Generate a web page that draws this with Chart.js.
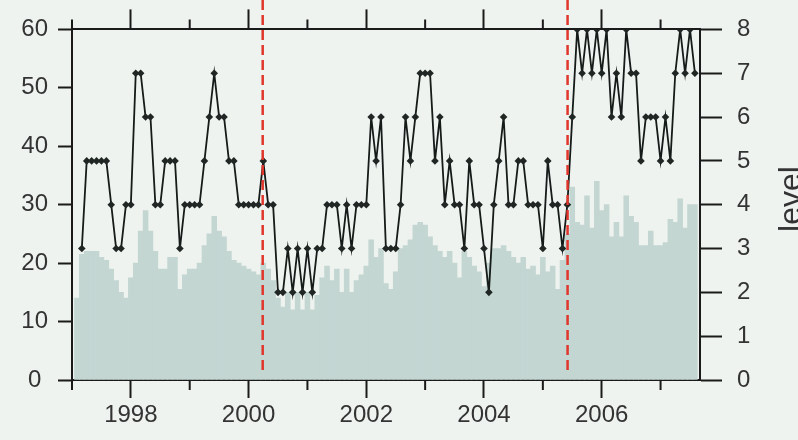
<!DOCTYPE html>
<html>
<head>
<meta charset="utf-8">
<script src="https://cdn.jsdelivr.net/npm/chart.js@4.4.1/dist/chart.umd.min.js"></script>
<style>
  html, body { margin: 0; padding: 0; background: #eff3ef; }
  #wrap { width: 798px; height: 440px; }
</style>
</head>
<body>
<div id="wrap"><canvas id="c" width="798" height="440"></canvas></div>
<script>
// ---- data (monthly, starting Feb 1997) ----
const startYear = 1997;
const firstMonthOffset = 1; // first value = month index 1 after Jan 1997

// bar series (left axis)
const barValues = [
  14, 21.5, 22, 22, 22, 21, 20.5, 19, 17, 15,
  14, 17.5, 20, 25.5, 29, 25.5, 22, 19, 19, 21,
  21, 15.5, 18, 19, 19, 20, 23, 25, 28, 25.5,
  24.5, 22, 20.5, 20, 19.5, 19, 18.5, 18, 20, 19,
  17, 14, 12.5, 15, 12, 15, 12, 15, 12, 14.5,
  17.5, 19.5, 17, 19, 15, 19, 15, 17, 18, 19.5,
  24, 21, 22.5, 16.5, 15.5, 18.5, 22.5, 23, 24, 26.5,
  27, 26.5, 24.5, 23, 22, 21, 22, 20, 17.5, 22,
  21, 19.5, 18.5, 16, 20, 22.5, 22.5, 23, 22, 21,
  20, 21, 19, 19.5, 18, 21, 18.5, 19.5, 15.5, 20.5,
  25, 33, 27, 26.5, 31.5, 26, 34, 29, 30, 24.5,
  27, 24.5, 31.5, 28, 27, 23, 23, 25.5, 23, 23,
  23.5, 27.5, 27, 31, 26, 30, 30
];

// level series (right axis)
const levelValues = [
  null, 3, 5, 5, 5, 5, 5, 4, 3, 3,
  4, 4, 7, 7, 6, 6, 4, 4, 5, 5,
  5, 3, 4, 4, 4, 4, 5, 6, 7, 6,
  6, 5, 5, 4, 4, 4, 4, 4, 5, 4,
  4, 2, 2, 3, 2, 3, 2, 3, 2, 3,
  3, 4, 4, 4, 3, 4, 3, 4, 4, 4,
  6, 5, 6, 3, 3, 3, 4, 6, 5, 6,
  7, 7, 7, 5, 6, 4, 5, 4, 4, 3,
  5, 4, 4, 3, 2, 4, 5, 6, 4, 4,
  5, 5, 4, 4, 4, 3, 5, 4, 4, 3,
  4, 6, 8, 7, 8, 7, 8, 7, 8, 6,
  7, 6, 8, 7, 7, 5, 6, 6, 6, 5,
  6, 5, 7, 8, 7, 8, 7
];

const yearTicks = [1997, 1998, 1999, 2000, 2001, 2002, 2003, 2004, 2005, 2006, 2007];
const leftTicks = [0, 10, 20, 30, 40, 50, 60];
const rightTicks = [0, 1, 2, 3, 4, 5, 6, 7, 8];
const breakYears = [2000.24, 2005.42];
const rightAxisTitle = 'level';
const xMin = 1997, xMax = 2007.67;

// ---- build ----
const months = barValues.map((_, i) => startYear + (firstMonthOffset + i) / 12);
const barData = months.map((t, i) => ({ x: t, y: barValues[i] }));
const levelData = months.map((t, i) => ({ x: t, y: levelValues[i] }));

const INK = '#1a1a1a';
const TXT = '#333333';
const FONT = { family: '"Liberation Sans", Arial, sans-serif', size: 24 };

const decor = {
  id: 'decor',
  beforeDraw(chart) {
    const c = chart.ctx;
    c.save();
    c.fillStyle = '#eff3ef';
    c.fillRect(0, 0, chart.width, chart.height);
    c.restore();
  },
  afterDatasetsDraw(chart) {
    const c = chart.ctx, xs = chart.scales.x, a = chart.chartArea;
    c.save();
    c.strokeStyle = '#e0362c';
    c.lineWidth = 2.5;
    c.setLineDash([10, 5]);
    breakYears.forEach(yr => {
      const px = xs.getPixelForValue(yr);
      c.beginPath();
      c.moveTo(px, 0);
      c.lineTo(px, a.bottom - 6);
      c.stroke();
    });
    c.restore();
  },
  afterDraw(chart) {
    const c = chart.ctx, xs = chart.scales.x, a = chart.chartArea;
    c.save();
    c.strokeStyle = INK;
    c.lineWidth = 2;
    yearTicks.filter(y => y % 2 !== 0).forEach(y => {
      const px = xs.getPixelForValue(y);
      c.beginPath();
      c.moveTo(px, a.bottom); c.lineTo(px, a.bottom + 10);
      c.moveTo(px, a.top); c.lineTo(px, a.top - 10);
      c.stroke();
    });
    c.fillStyle = TXT;
    c.font = '32px "Liberation Sans", Arial, sans-serif';
    c.translate(801, 199);
    c.rotate(-Math.PI / 2);
    c.textAlign = 'center';
    c.textBaseline = 'alphabetic';
    c.fillText(rightAxisTitle, 0, 0);
    c.restore();
  }
};

const majorTickColor = ctx => (ctx.tick && ctx.tick.value % 2 === 0) ? INK : 'rgba(0,0,0,0)';

new Chart(document.getElementById('c'), {
  type: 'bar',
  data: {
    datasets: [
      {
        type: 'line',
        label: 'level',
        data: levelData,
        xAxisID: 'x',
        yAxisID: 'y2',
        borderColor: '#151b18',
        borderWidth: 1.8,
        pointStyle: 'rectRot',
        pointRadius: 3.8,
        pointBackgroundColor: '#1f2623',
        pointBorderColor: '#1f2623',
        pointBorderWidth: 0,
        tension: 0,
        spanGaps: false,
        clip: 0,
        order: 0
      },
      {
        type: 'bar',
        label: 'count',
        data: barData,
        xAxisID: 'x',
        yAxisID: 'y',
        backgroundColor: '#c3d6d2',
        borderWidth: 0,
        barPercentage: 1,
        categoryPercentage: 1,
        order: 1
      }
    ]
  },
  options: {
    responsive: false,
    animation: false,
    devicePixelRatio: 1,
    layout: { padding: 0 },
    plugins: { legend: { display: false }, tooltip: { enabled: false } },
    scales: {
      x: {
        type: 'linear', position: 'bottom', min: xMin, max: xMax, offset: false, z: 1,
        afterBuildTicks: s => { s.ticks = yearTicks.map(v => ({ value: v })); },
        afterFit: s => { s.height = 60; },
        ticks: {
          autoSkip: false, maxRotation: 0, minRotation: 0, padding: 3,
          color: TXT, font: FONT,
          callback: v => (v % 2 === 0 ? String(v) : '')
        },
        grid: { drawOnChartArea: false, offset: false, tickLength: 18, tickWidth: 2, tickColor: majorTickColor },
        border: { color: INK, width: 2 }
      },
      x2: {
        type: 'linear', axis: 'x', position: 'top', min: xMin, max: xMax, offset: false, z: 1,
        afterBuildTicks: s => { s.ticks = yearTicks.map(v => ({ value: v })); },
        afterFit: s => { s.height = 20; },
        ticks: { display: false },
        grid: { drawOnChartArea: false, offset: false, tickLength: 20, tickWidth: 2, tickColor: majorTickColor },
        border: { color: INK, width: 2 }
      },
      y: {
        type: 'linear', position: 'left', min: 0, max: 60, z: 1,
        afterBuildTicks: s => { s.ticks = leftTicks.map(v => ({ value: v })); },
        afterFit: s => { s.width = 72; },
        ticks: { crossAlign: 'center', padding: 10, color: TXT, font: FONT },
        grid: { drawOnChartArea: false, tickLength: 14, tickWidth: 2, tickColor: INK },
        border: { color: INK, width: 2 }
      },
      y2: {
        type: 'linear', position: 'right', min: 0, max: 8, z: 1,
        afterBuildTicks: s => { s.ticks = rightTicks.map(v => ({ value: v })); },
        afterFit: s => { s.width = 98; },
        ticks: { padding: 15, color: TXT, font: FONT },
        grid: { drawOnChartArea: false, tickLength: 22, tickWidth: 2, tickColor: INK },
        border: { color: INK, width: 2 }
      }
    }
  },
  plugins: [decor]
});
</script>
</body>
</html>
